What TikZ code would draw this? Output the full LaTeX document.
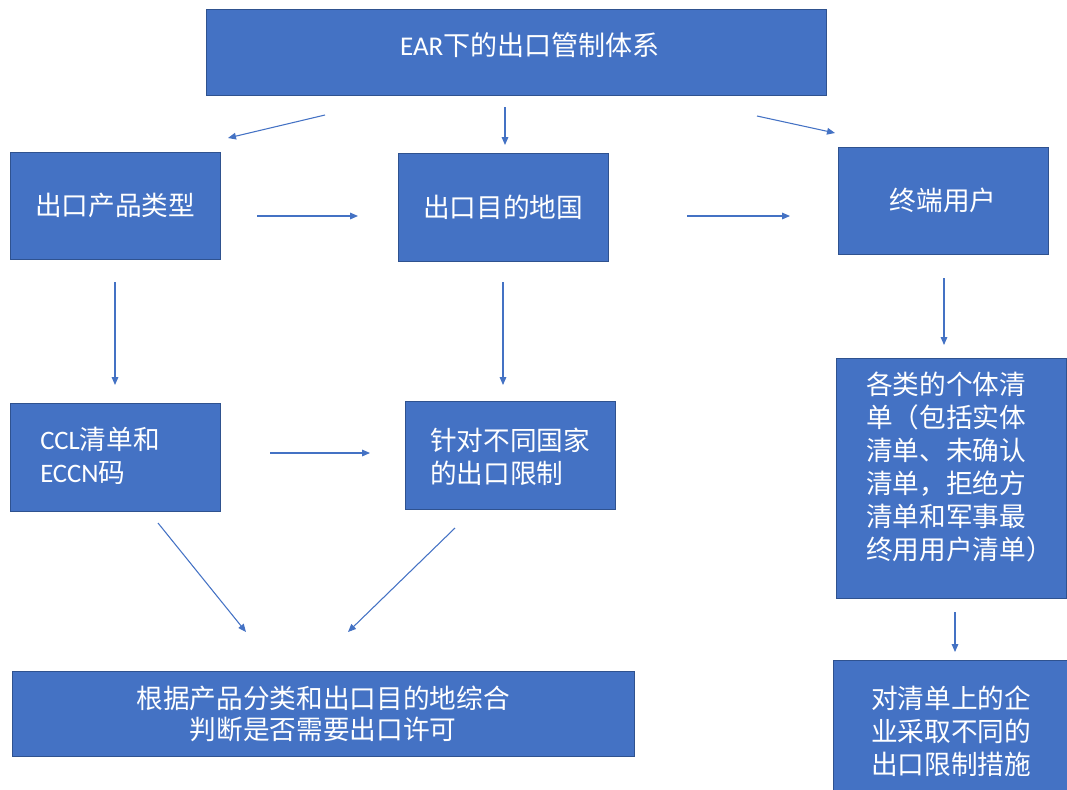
\documentclass[tikz,border=0pt]{standalone}
\usepackage{fontspec}
\setmainfont{Noto Sans CJK SC}
\newfontfamily\lat{Carlito}
\usetikzlibrary{arrows.meta}
\definecolor{boxblue}{HTML}{4472C4}
\definecolor{edgeblue}{HTML}{2F528F}
\definecolor{arrblue}{HTML}{4472C4}
\begin{document}
\begin{tikzpicture}[x=0.75pt,y=-0.75pt,
  box/.style={draw=edgeblue, line width=0.75pt, fill=boxblue, text=white, inner sep=0pt, align=center,
    font=\fontsize{20}{24.75}\selectfont},
  txt/.style={text=white, inner sep=0pt, align=left, font=\fontsize{20}{24.75}\selectfont},
  arr/.style={draw=arrblue, line width=0.8pt, -{Triangle[length=6pt,width=5pt]}}]
\useasboundingbox (0,0) rectangle (1067,789);
\clip (0,0) rectangle (1067,789);

% boxes
\node[box, minimum width=465pt, minimum height=64.5pt] (top) at (516,52) {};
\node[txt, font=\fontsize{20.3}{24.75}\selectfont] (toptext) at (530,45) {{\lat EAR}下的出口管制体系};
\node[box, minimum width=157.5pt, minimum height=80.25pt] (prod) at (115,205.5) {出口产品类型};
\node[box, minimum width=157.5pt, minimum height=81pt] (dest) at (503,207) {出口目的地国};
\node[box, minimum width=157.5pt, minimum height=80.25pt] (user) at (943,200.5) {终端用户};
\node[box, minimum width=157.5pt, minimum height=81pt] (ccl) at (115,457) {};
\node[txt, anchor=west] (ccltext) at (40,456) {{\lat CCL}清单和\\{\lat ECCN}码};
\node[box, minimum width=157.5pt, minimum height=81pt] (ctry) at (510,455) {};
\node[txt, anchor=west] (ctrytext) at (430,457) {针对不同国家\\的出口限制};
\node[box, minimum width=172.5pt, minimum height=180pt] (list) at (951,478) {};
\node[txt, anchor=west] (listtext) at (866,467) {各类的个体清\\单（包括实体\\清单、未确认\\清单，拒绝方\\清单和军事最\\终用用户清单）};
\node[box, minimum width=466.5pt, minimum height=63.75pt,
  font=\fontsize{20}{23.25}\selectfont] (judge) at (323,714) {根据产品分类和出口目的地综合\\判断是否需要出口许可};
\node[box, minimum width=185.25pt, minimum height=105pt] (meas) at (956.5,730) {};
\node[txt, anchor=west] (meastext) at (871,731) {对清单上的企\\业采取不同的\\出口限制措施};

% arrow end points
\coordinate (a1s) at (325,115);  \coordinate (a1e) at (228,138);
\coordinate (a2s) at (505,107);  \coordinate (a2e) at (505,145);
\coordinate (a3s) at (757,116);  \coordinate (a3e) at (835,133);
\coordinate (a4s) at (257,216);  \coordinate (a4e) at (358,216);
\coordinate (a5s) at (687,216);  \coordinate (a5e) at (790,216);
\coordinate (a6s) at (115,282);  \coordinate (a6e) at (115,385);
\coordinate (a7s) at (503,282);  \coordinate (a7e) at (503,385);
\coordinate (a8s) at (944,278);  \coordinate (a8e) at (944,345);
\coordinate (a9s) at (270,453);  \coordinate (a9e) at (370,453);
\coordinate (a10s) at (158,523); \coordinate (a10e) at (246,632);
\coordinate (a11s) at (455,528); \coordinate (a11e) at (348,632);
\coordinate (a12s) at (955,612); \coordinate (a12e) at (955,652);

\draw[arr] (a1s) -- (a1e);
\draw[arr] (a2s) -- (a2e);
\draw[arr] (a3s) -- (a3e);
\draw[arr] (a4s) -- (a4e);
\draw[arr] (a5s) -- (a5e);
\draw[arr] (a6s) -- (a6e);
\draw[arr] (a7s) -- (a7e);
\draw[arr] (a8s) -- (a8e);
\draw[arr] (a9s) -- (a9e);
\draw[arr] (a10s) -- (a10e);
\draw[arr] (a11s) -- (a11e);
\draw[arr] (a12s) -- (a12e);
\end{tikzpicture}
\end{document}
